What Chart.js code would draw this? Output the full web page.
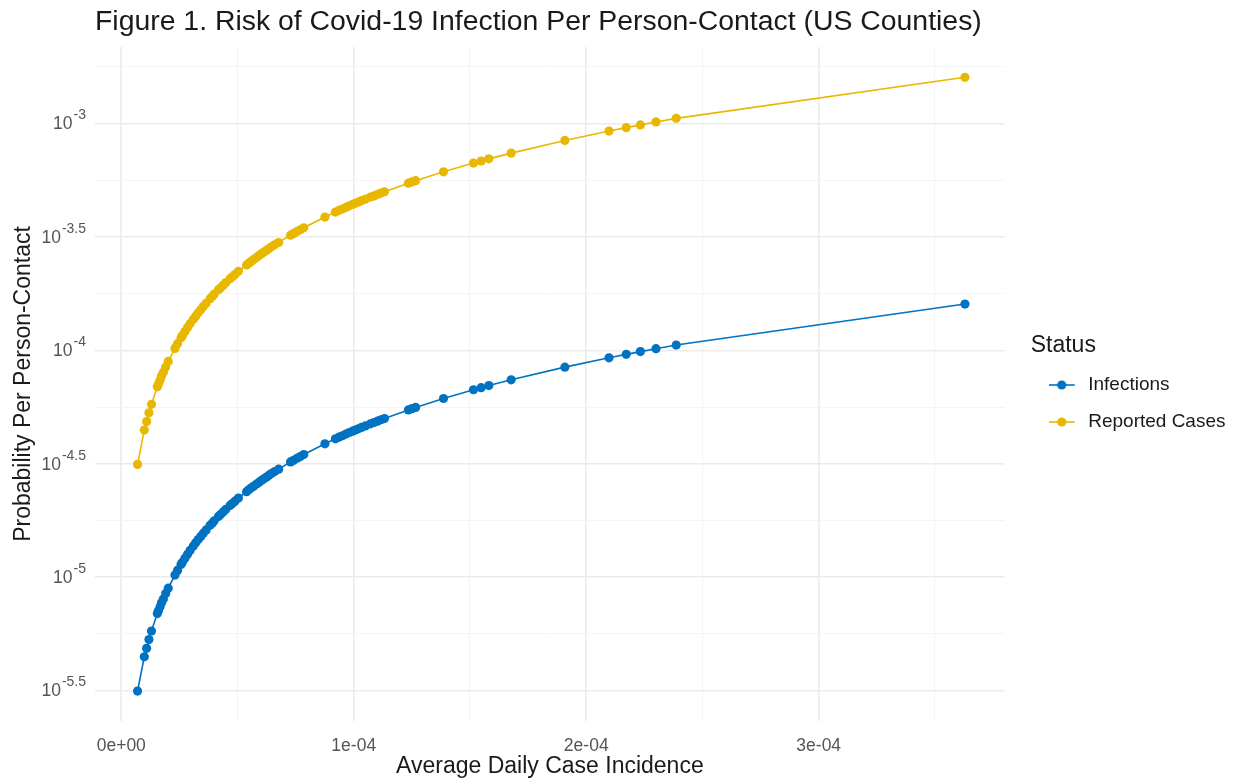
<!DOCTYPE html>
<html>
<head>
<meta charset="utf-8">
<script src="https://cdn.jsdelivr.net/npm/chart.js@4.4.0/dist/chart.umd.min.js"></script>
<style>
  html, body { margin: 0; padding: 0; background: #fff; }
  #wrap { width: 1233px; height: 784px; }
</style>
</head>
<body>
<div id="wrap"><canvas id="chart"></canvas></div>
<script>
// --- Data ---
const incidence = [
  0.70e-5, 0.99e-5, 1.09e-5, 1.19e-5, 1.30e-5, 1.55e-5, 1.60e-5, 1.67e-5, 1.73e-5, 1.81e-5,
  1.91e-5, 2.02e-5, 2.31e-5, 2.42e-5, 2.57e-5, 2.63e-5, 2.74e-5, 2.85e-5, 2.96e-5, 3.10e-5,
  3.20e-5, 3.31e-5, 3.42e-5, 3.53e-5, 3.65e-5, 3.82e-5, 3.92e-5, 4.00e-5, 4.18e-5, 4.28e-5,
  4.39e-5, 4.50e-5, 4.68e-5, 4.78e-5, 4.89e-5, 5.04e-5, 5.39e-5, 5.50e-5, 5.61e-5, 5.70e-5,
  5.82e-5, 5.93e-5, 6.04e-5, 6.15e-5, 6.25e-5, 6.35e-5, 6.46e-5, 6.60e-5, 6.77e-5, 7.28e-5,
  7.40e-5, 7.56e-5, 7.70e-5, 7.85e-5, 8.76e-5, 9.21e-5, 9.36e-5, 9.51e-5, 9.66e-5, 9.81e-5,
  9.95e-5, 10.07e-5, 10.20e-5, 10.33e-5, 10.50e-5, 10.72e-5, 10.87e-5, 11.02e-5, 11.17e-5, 11.32e-5,
  12.35e-5, 12.50e-5, 12.66e-5, 13.86e-5, 15.15e-5, 15.48e-5, 15.81e-5, 16.77e-5, 19.08e-5, 20.98e-5,
  21.72e-5, 22.33e-5, 23.00e-5, 23.87e-5, 36.29e-5
];
const infections = [
  0.314e-5, 0.445e-5, 0.485e-5, 0.53e-5, 0.578e-5, 0.69e-5, 0.71e-5, 0.74e-5, 0.77e-5, 0.80e-5,
  0.845e-5, 0.893e-5, 1.02e-5, 1.07e-5, 1.136e-5, 1.163e-5, 1.21e-5, 1.26e-5, 1.31e-5, 1.37e-5,
  1.415e-5, 1.463e-5, 1.51e-5, 1.56e-5, 1.613e-5, 1.69e-5, 1.733e-5, 1.77e-5, 1.85e-5, 1.89e-5,
  1.94e-5, 1.99e-5, 2.07e-5, 2.11e-5, 2.16e-5, 2.23e-5, 2.38e-5, 2.43e-5, 2.48e-5, 2.52e-5,
  2.57e-5, 2.62e-5, 2.67e-5, 2.72e-5, 2.76e-5, 2.81e-5, 2.86e-5, 2.92e-5, 2.99e-5, 3.22e-5,
  3.27e-5, 3.34e-5, 3.40e-5, 3.47e-5, 3.87e-5, 4.07e-5, 4.14e-5, 4.20e-5, 4.27e-5, 4.34e-5,
  4.40e-5, 4.45e-5, 4.51e-5, 4.57e-5, 4.64e-5, 4.74e-5, 4.80e-5, 4.87e-5, 4.94e-5, 5.00e-5,
  5.46e-5, 5.53e-5, 5.60e-5, 6.13e-5, 6.70e-5, 6.84e-5, 6.99e-5, 7.41e-5, 8.43e-5, 9.27e-5,
  9.60e-5, 9.87e-5, 10.17e-5, 10.55e-5, 16.0e-5
];
const reported = [
  0.314e-4, 0.445e-4, 0.485e-4, 0.53e-4, 0.578e-4, 0.69e-4, 0.71e-4, 0.74e-4, 0.77e-4, 0.80e-4,
  0.845e-4, 0.893e-4, 1.02e-4, 1.07e-4, 1.136e-4, 1.163e-4, 1.21e-4, 1.26e-4, 1.31e-4, 1.37e-4,
  1.415e-4, 1.463e-4, 1.51e-4, 1.56e-4, 1.613e-4, 1.69e-4, 1.733e-4, 1.77e-4, 1.85e-4, 1.89e-4,
  1.94e-4, 1.99e-4, 2.07e-4, 2.11e-4, 2.16e-4, 2.23e-4, 2.38e-4, 2.43e-4, 2.48e-4, 2.52e-4,
  2.57e-4, 2.62e-4, 2.67e-4, 2.72e-4, 2.76e-4, 2.81e-4, 2.86e-4, 2.92e-4, 2.99e-4, 3.22e-4,
  3.27e-4, 3.34e-4, 3.40e-4, 3.47e-4, 3.87e-4, 4.07e-4, 4.14e-4, 4.20e-4, 4.27e-4, 4.34e-4,
  4.40e-4, 4.45e-4, 4.51e-4, 4.57e-4, 4.64e-4, 4.74e-4, 4.80e-4, 4.87e-4, 4.94e-4, 5.00e-4,
  5.46e-4, 5.53e-4, 5.60e-4, 6.13e-4, 6.70e-4, 6.84e-4, 6.99e-4, 7.41e-4, 8.43e-4, 9.27e-4,
  9.60e-4, 9.87e-4, 10.17e-4, 10.55e-4, 16.0e-4
];

const seriesNames = ['Infections', 'Reported Cases'];
const seriesColors = ['#0072C2', '#E8B800'];

const xTicks = [0, 0.5e-4, 1e-4, 1.5e-4, 2e-4, 2.5e-4, 3e-4, 3.5e-4];
const xTickLabels = ['0e+00', '', '1e-04', '', '2e-04', '', '3e-04', ''];
const yTickExps = [-5.25, -5.5, -5, -4.75, -4.5, -4.25, -4, -3.75, -3.5, -3.25, -3, -2.75];
const yLabelExps = [-5.5, -5, -4.5, -4, -3.5, -3];
const yLabelText = ['-5.5', '-5', '-4.5', '-4', '-3.5', '-3'];

const FONT = "'Liberation Sans', Arial, Helvetica, sans-serif";
Chart.defaults.font.family = FONT;
Chart.defaults.color = '#1a1a1a';

const isMajor = v => Math.abs(v * 2 - Math.round(v * 2)) < 1e-9;

// ggplot-style legend key: a short line with a dot
function legendKey(color) {
  const c = document.createElement('canvas');
  c.width = 30; c.height = 12;
  const g = c.getContext('2d');
  g.strokeStyle = color; g.lineWidth = 1.6;
  g.beginPath(); g.moveTo(0, 6); g.lineTo(26, 6); g.stroke();
  g.fillStyle = color;
  g.beginPath(); g.arc(13, 6, 4.6, 0, Math.PI * 2); g.fill();
  return c;
}

// 10^x labels on the log axis
const yPowerLabels = {
  id: 'yPowerLabels',
  afterDraw(chart) {
    const s = chart.scales.y, ctx = chart.ctx;
    const right = s.right - 9;
    ctx.save();
    ctx.fillStyle = '#555';
    ctx.textAlign = 'right';
    ctx.textBaseline = 'middle';
    yLabelExps.forEach((e, i) => {
      const py = s.getPixelForValue(Math.pow(10, e));
      ctx.font = '14px ' + FONT;
      const w = ctx.measureText(yLabelText[i]).width;
      ctx.fillText(yLabelText[i], right, py - 8);
      ctx.font = '17.5px ' + FONT;
      ctx.fillText('10', right - w - 1, py + 1);
    });
    ctx.restore();
  }
};

// nudge the legend away from the panel, like ggplot's legend spacing
const legendGap = {
  id: 'legendGap',
  afterLayout(chart) {
    chart.legend.left += 26;
    chart.legend.right += 26;
  }
};

const makeData = ys => incidence.map((x, i) => ({ x, y: ys[i] }));

new Chart(document.getElementById('chart'), {
  type: 'scatter',
  data: {
    datasets: [infections, reported].map((ys, k) => ({
      label: seriesNames[k],
      data: makeData(ys),
      showLine: true,
      borderColor: seriesColors[k],
      backgroundColor: seriesColors[k],
      borderWidth: 1.6,
      pointRadius: 4.6,
      pointBorderWidth: 0,
      pointHoverRadius: 4.6
    }))
  },
  options: {
    responsive: true,
    maintainAspectRatio: false,
    animation: false,
    layout: { padding: { left: 0, right: 23.5, top: 0, bottom: 0 } },
    plugins: {
      tooltip: { enabled: false },
      title: {
        display: true,
        text: 'Figure 1. Risk of Covid-19 Infection Per Person-Contact (US Counties)',
        align: 'start',
        fullSize: false,
        color: '#1a1a1a',
        font: { size: 28.4, weight: 'normal', lineHeight: 1.2 },
        padding: { top: 5, bottom: 7.9 }
      },
      legend: {
        position: 'right',
        align: 'center',
        title: {
          display: true,
          text: 'Status',
          position: 'start',
          color: '#1a1a1a',
          font: { size: 23, lineHeight: 1.0 },
          padding: { top: 0, bottom: 0 }
        },
        labels: {
          color: '#1a1a1a',
          font: { size: 19 },
          padding: 18,
          usePointStyle: true,
          pointStyleWidth: 30,
          generateLabels(chart) {
            const items = Chart.defaults.plugins.legend.labels.generateLabels(chart);
            items.forEach((it, i) => { it.pointStyle = legendKey(seriesColors[i]); });
            return items;
          }
        }
      }
    },
    scales: {
      x: {
        type: 'linear',
        min: -1.13e-5,
        max: 3.80e-4,
        afterBuildTicks: s => { s.ticks = xTicks.map(v => ({ value: v })); },
        afterFit: s => { s.height = 63; },
        border: { display: false },
        grid: {
          drawTicks: false,
          color: c => (c.index % 2 === 0 ? '#ebebeb' : '#f4f4f4'),
          lineWidth: c => (c.index % 2 === 0 ? 1.6 : 1)
        },
        ticks: {
          autoSkip: false,
          maxRotation: 0,
          padding: 15,
          color: '#555',
          font: { size: 17.5 },
          callback: (v, i) => xTickLabels[i]
        },
        title: {
          display: true,
          text: 'Average Daily Case Incidence',
          color: '#1a1a1a',
          font: { size: 23 },
          padding: { top: 0, bottom: 4 }
        }
      },
      y: {
        type: 'logarithmic',
        min: Math.pow(10, -5.635),
        max: Math.pow(10, -2.662),
        afterBuildTicks: s => { s.ticks = yTickExps.map(e => ({ value: Math.pow(10, e), exp: e })); },
        afterFit: s => { s.width = 95; },
        border: { display: false },
        grid: {
          drawTicks: false,
          color: c => (isMajor(c.tick.exp) ? '#ebebeb' : '#f4f4f4'),
          lineWidth: c => (isMajor(c.tick.exp) ? 1.6 : 1)
        },
        ticks: { display: false },
        title: {
          display: true,
          text: 'Probability Per Person-Contact',
          color: '#1a1a1a',
          font: { size: 23 },
          padding: { top: 10, bottom: 0 }
        }
      }
    }
  },
  plugins: [yPowerLabels, legendGap]
});
</script>
</body>
</html>
